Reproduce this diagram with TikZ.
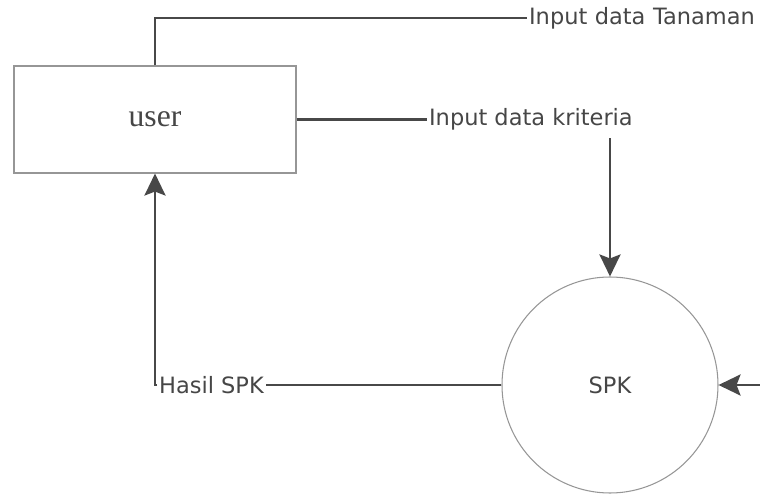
\documentclass[tikz,border=0pt]{standalone}
\usepackage{fontspec}
\setmainfont{Liberation Serif}
\newfontfamily\labelfont{DejaVu Sans}
\usetikzlibrary{arrows.meta,positioning,calc}
\definecolor{GarisGelap}{RGB}{72,72,72}
\definecolor{TepiAbu}{RGB}{150,150,150}
\definecolor{TeksAbu}{RGB}{70,70,70}
\tikzset{
  entitasbox/.style={draw=TepiAbu, line width=0.6pt, fill=white,
    minimum width=5.64cm, minimum height=2.14cm, font=\fontsize{18}{20}\selectfont, text=TeksAbu},
  prosesbulat/.style={circle, draw=TepiAbu, line width=0.6pt, fill=white,
    minimum size=4.32cm, inner sep=0pt, font=\labelfont\fontsize{12.8}{15}\selectfont, text=TeksAbu},
  alirlabel/.style={font=\labelfont\fontsize{12.8}{15}\selectfont, text=TeksAbu,
    inner sep=1pt, anchor=west},
  alirgaris/.style={line width=1.6pt, GarisGelap},
  alirpanah/.style={-{Stealth[length=4.4mm, width=4.2mm, inset=0.8mm]}, line width=1.6pt, GarisGelap},
}

\begin{document}
\begin{tikzpicture}
    \useasboundingbox (0,0) rectangle (15.2,-9.96);
    \clip (0,0) rectangle (15.2,-9.96);

    \node[entitasbox] (user) at (3.1,-2.39) {user};
    \node[prosesbulat] (spk) at (12.2,-7.7) {SPK};

    \node[alirlabel, text width=4.7cm] (lblTanaman) at (10.54,-0.36) {Input data Tanaman};
    \node[alirlabel] (lblKriteria) at (8.54,-2.39) {Input data kriteria};
    \node[alirlabel] (lblHasil) at (3.14,-7.7) {Hasil SPK};

    \draw[alirgaris] (user.north) |- (lblTanaman.west);
    \draw[alirgaris] (user.east) -- (lblKriteria.west);
    \draw[alirpanah] ($(lblKriteria.south -| spk.north)+(0,-0.12)$) -- (spk.north);
    \draw[alirpanah] (lblTanaman.east) -- ++(0.6,0) |- (spk.east);
    \draw[alirgaris] (spk.west) -- (lblHasil.east);
    \draw[alirpanah] (lblHasil.west) -| (user.south);
  \end{tikzpicture}
\end{document}
